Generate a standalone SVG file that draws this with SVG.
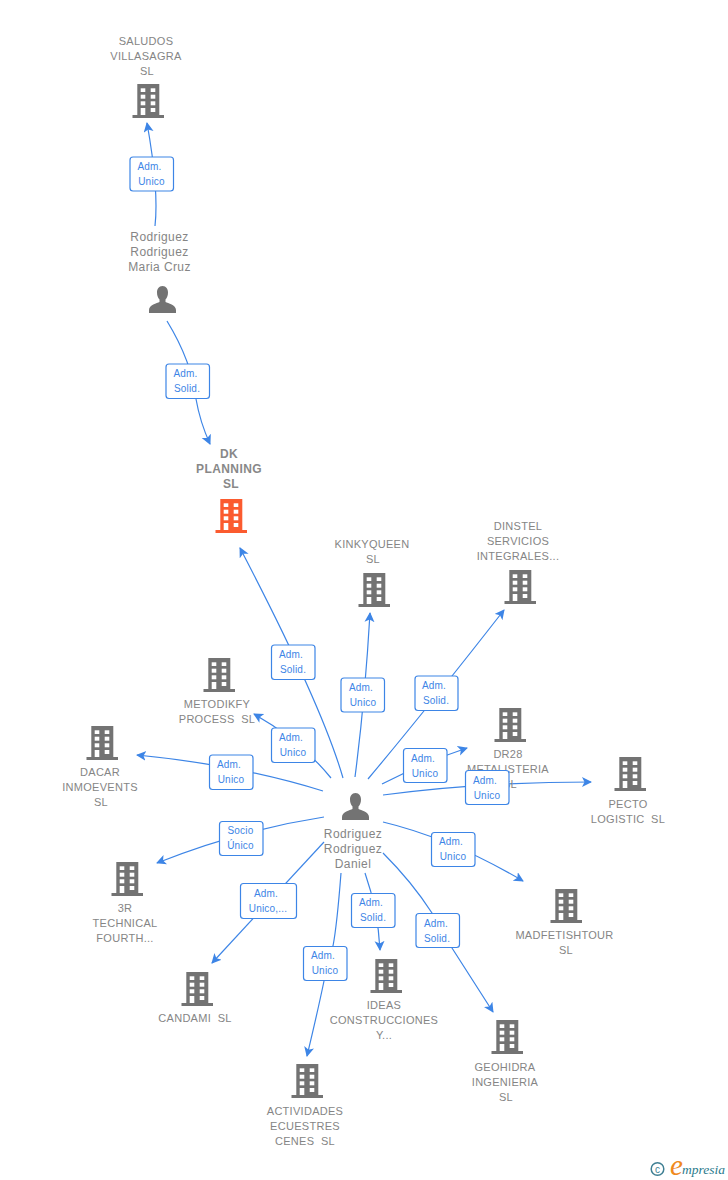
<svg xmlns="http://www.w3.org/2000/svg" xmlns:xlink="http://www.w3.org/1999/xlink" width="728" height="1180" viewBox="0 0 728 1180">
<style>
text{font-family:"Liberation Sans",Arial,sans-serif}
.n{font-size:11px;fill:#858585;text-anchor:middle;letter-spacing:.28px;white-space:pre}
.m{font-size:12px;font-weight:bold;fill:#888;text-anchor:middle;letter-spacing:.4px}
.p{font-size:12px;fill:#858585;text-anchor:middle;letter-spacing:.4px}
.c{fill:none;stroke:#3d85e6;stroke-width:1.2}
.b{fill:#fff;stroke:#3d85e6;stroke-width:1.2}
.t{font-size:10px;fill:#3d85e6;text-anchor:middle;letter-spacing:.2px}
</style>
<defs>
<marker id="a" markerUnits="userSpaceOnUse" markerWidth="12" markerHeight="12" refX="9" refY="5" orient="auto"><path d="M0 0L10 5L0 10L2.500 5Z" fill="#3d85e6"/></marker>
<g id="bld"><path d="M4.800 0H26.800V31H31.500V34H0V31H4.800Z"/><g fill="#fff"><rect x="8.200" y="4.300" width="4.600" height="3.700"/><rect x="18.200" y="4.300" width="4.600" height="3.700"/><rect x="8.200" y="10.700" width="4.600" height="4"/><rect x="18.200" y="10.700" width="4.600" height="4"/><rect x="8.200" y="17.300" width="4.600" height="4"/><rect x="18.200" y="17.300" width="4.600" height="4"/><rect x="8.200" y="24" width="4.600" height="7"/><rect x="18.200" y="24" width="4.600" height="4"/></g></g>
<path id="per" d="M13.500 0C9.800 0 8 3 8 6.500C8 9.500 9 12 10.500 13.500V16C8 17.500 0 18.500 0 24V27H27V24C27 18.500 19 17.500 16.500 16V13.500C18 12 19 9.500 19 6.500C19 3 17.200 0 13.500 0Z"/>
</defs>
<g id="connectors">
<path class="c" marker-end="url(#a)" d="M155 226Q159 190 147 123"/>
<path class="c" marker-end="url(#a)" d="M167 321Q192 362 196 399Q200 422 210 444"/>
<path class="c" marker-end="url(#a)" d="M343 778Q322 705 240 548"/>
<path class="c" marker-end="url(#a)" d="M355 777Q365 700 370 613"/>
<path class="c" marker-end="url(#a)" d="M368 779Q430 705 504 610"/>
<path class="c" marker-end="url(#a)" d="M331 778Q300 740 254 714"/>
<path class="c" marker-end="url(#a)" d="M323 791Q240 765 137 755"/>
<path class="c" marker-end="url(#a)" d="M382 784Q425 762 467 748"/>
<path class="c" marker-end="url(#a)" d="M383 795Q480 782 591 782"/>
<path class="c" marker-end="url(#a)" d="M324 817Q240 830 157 863"/>
<path class="c" marker-end="url(#a)" d="M383 822Q450 838 523 881"/>
<path class="c" marker-end="url(#a)" d="M324 842Q270 900 212 963"/>
<path class="c" marker-end="url(#a)" d="M341 873Q337 925 333 946L324 981Q318 1010 307 1056"/>
<path class="c" marker-end="url(#a)" d="M365 873Q378 910 380 950"/>
<path class="c" marker-end="url(#a)" d="M383 853Q412 882 432 913L452 948L493 1012"/>
</g>
<g id="n1" fill="#737373"><use href="#bld" x="132.500" y="84"/><text class="n"><tspan x="146" y="45">SALUDOS</tspan><tspan x="146" y="60">VILLASAGRA</tspan><tspan x="147" y="75">SL</tspan></text></g>
<g id="n2" fill="#737373"><use href="#per" x="149" y="286"/><text class="p"><tspan x="159.500" y="241">Rodriguez</tspan><tspan x="159.500" y="256">Rodriguez</tspan><tspan x="159.500" y="271">Maria Cruz</tspan></text></g>
<g id="n3" fill="#fb5b2f"><use href="#bld" x="215.500" y="499"/><text class="m"><tspan x="229" y="458">DK</tspan><tspan x="229" y="473">PLANNING</tspan><tspan x="231" y="488">SL</tspan></text></g>
<g id="n4" fill="#737373"><use href="#bld" x="358.500" y="573"/><text class="n"><tspan x="372" y="548">KINKYQUEEN</tspan><tspan x="373" y="563">SL</tspan></text></g>
<g id="n5" fill="#737373"><use href="#bld" x="504.500" y="570"/><text class="n"><tspan x="518" y="530">DINSTEL</tspan><tspan x="518" y="545">SERVICIOS</tspan><tspan x="518" y="560">INTEGRALES...</tspan></text></g>
<g id="n6" fill="#737373"><use href="#bld" x="203.500" y="658"/><text class="n"><tspan x="217" y="708">METODIKFY</tspan><tspan x="217" y="723">PROCESS  SL</tspan></text></g>
<g id="n7" fill="#737373"><use href="#bld" x="86.500" y="726"/><text class="n"><tspan x="100" y="776">DACAR</tspan><tspan x="100" y="791">INMOEVENTS</tspan><tspan x="101" y="806">SL</tspan></text></g>
<g id="n8" fill="#737373"><use href="#bld" x="494.500" y="708"/><text class="n"><tspan x="508" y="758">DR28</tspan><tspan x="508" y="773">METALISTERIA</tspan><tspan x="510" y="788">SL</tspan></text></g>
<g id="n9" fill="#737373"><use href="#bld" x="614.500" y="757"/><text class="n"><tspan x="628" y="808">PECTO</tspan><tspan x="628" y="823">LOGISTIC  SL</tspan></text></g>
<g id="n10" fill="#737373"><use href="#bld" x="111.500" y="862"/><text class="n"><tspan x="125" y="912">3R</tspan><tspan x="125" y="927">TECHNICAL</tspan><tspan x="125" y="942">FOURTH...</tspan></text></g>
<g id="n11" fill="#737373"><use href="#bld" x="181.500" y="972"/><text class="n"><tspan x="195" y="1022">CANDAMI  SL</tspan></text></g>
<g id="n12" fill="#737373"><use href="#bld" x="291.500" y="1064"/><text class="n"><tspan x="305" y="1115">ACTIVIDADES</tspan><tspan x="305" y="1130">ECUESTRES</tspan><tspan x="305" y="1145">CENES  SL</tspan></text></g>
<g id="n13" fill="#737373"><use href="#bld" x="370.500" y="959"/><text class="n"><tspan x="384" y="1009">IDEAS</tspan><tspan x="384" y="1024">CONSTRUCCIONES</tspan><tspan x="384" y="1039">Y...</tspan></text></g>
<g id="n14" fill="#737373"><use href="#bld" x="491.500" y="1020"/><text class="n"><tspan x="505" y="1071">GEOHIDRA</tspan><tspan x="505" y="1086">INGENIERIA</tspan><tspan x="506" y="1101">SL</tspan></text></g>
<g id="n15" fill="#737373"><use href="#bld" x="550.500" y="889"/><text class="n"><tspan x="564.500" y="939">MADFETISHTOUR</tspan><tspan x="566" y="954">SL</tspan></text></g>
<g id="n16" fill="#737373"><use href="#per" x="342" y="793"/><text class="p"><tspan x="353" y="838">Rodriguez</tspan><tspan x="353" y="853">Rodriguez</tspan><tspan x="353" y="868">Daniel</tspan></text></g>
<g id="labels">
<g><rect class="b" x="130" y="157" width="43.500" height="34" rx="3"/><text class="t"><tspan x="149.500" y="170">Adm.</tspan><tspan x="151.500" y="185">Unico</tspan></text></g>
<g><rect class="b" x="166" y="364" width="43.500" height="34.500" rx="3"/><text class="t"><tspan x="185.500" y="377">Adm.</tspan><tspan x="187" y="392">Solid.</tspan></text></g>
<g><rect class="b" x="271.500" y="645" width="43.500" height="34.500" rx="3"/><text class="t"><tspan x="291" y="658">Adm.</tspan><tspan x="293" y="673">Solid.</tspan></text></g>
<g><rect class="b" x="341" y="678" width="43.500" height="34" rx="3"/><text class="t"><tspan x="361" y="691">Adm.</tspan><tspan x="363" y="706">Unico</tspan></text></g>
<g><rect class="b" x="415" y="676" width="43" height="34.500" rx="3"/><text class="t"><tspan x="434" y="689">Adm.</tspan><tspan x="436" y="704">Solid.</tspan></text></g>
<g><rect class="b" x="271.500" y="728" width="43.500" height="34.500" rx="3"/><text class="t"><tspan x="291" y="741">Adm.</tspan><tspan x="293" y="756">Unico</tspan></text></g>
<g><rect class="b" x="209.500" y="755" width="43.500" height="34.500" rx="3"/><text class="t"><tspan x="229" y="768">Adm.</tspan><tspan x="231" y="783">Unico</tspan></text></g>
<g><rect class="b" x="403.500" y="748.500" width="43.500" height="34" rx="3"/><text class="t"><tspan x="423" y="762">Adm.</tspan><tspan x="425" y="777">Unico</tspan></text></g>
<g><rect class="b" x="465.500" y="770.500" width="43.500" height="34" rx="3"/><text class="t"><tspan x="485" y="784">Adm.</tspan><tspan x="487" y="799">Unico</tspan></text></g>
<g><rect class="b" x="219.500" y="821.500" width="43.500" height="34" rx="3"/><text class="t"><tspan x="240.500" y="834">Socio</tspan><tspan x="240.500" y="849">Único</tspan></text></g>
<g><rect class="b" x="431.500" y="832.500" width="43.500" height="34" rx="3"/><text class="t"><tspan x="451" y="845">Adm.</tspan><tspan x="453" y="860">Unico</tspan></text></g>
<g><rect class="b" x="240.500" y="883.500" width="56" height="35" rx="3"/><text class="t"><tspan x="266" y="897">Adm.</tspan><tspan x="268" y="912">Unico,...</tspan></text></g>
<g><rect class="b" x="351.500" y="893.500" width="43.500" height="34" rx="3"/><text class="t"><tspan x="371" y="906">Adm.</tspan><tspan x="373" y="921">Solid.</tspan></text></g>
<g><rect class="b" x="303.500" y="946.500" width="43.500" height="34" rx="3"/><text class="t"><tspan x="323" y="959">Adm.</tspan><tspan x="325" y="974">Unico</tspan></text></g>
<g><rect class="b" x="416" y="913.500" width="43.500" height="34" rx="3"/><text class="t"><tspan x="436" y="927">Adm.</tspan><tspan x="437" y="942">Solid.</tspan></text></g>
</g>
<g id="logo">
<circle cx="657.500" cy="1169" r="6.300" fill="none" stroke="#3f7f93" stroke-width="1.500"/>
<text x="657.500" y="1172.500" font-size="10" fill="#3f7f93" text-anchor="middle">c</text>
<text x="670" y="1175" font-size="29" font-style="italic" fill="#f08a1d" style="font-family:'Liberation Serif',serif">e</text>
<text x="682" y="1174" font-size="13.500" font-style="italic" fill="#2b7a8c" style="font-family:'Liberation Serif',serif">mpresia</text>
</g>
</svg>
